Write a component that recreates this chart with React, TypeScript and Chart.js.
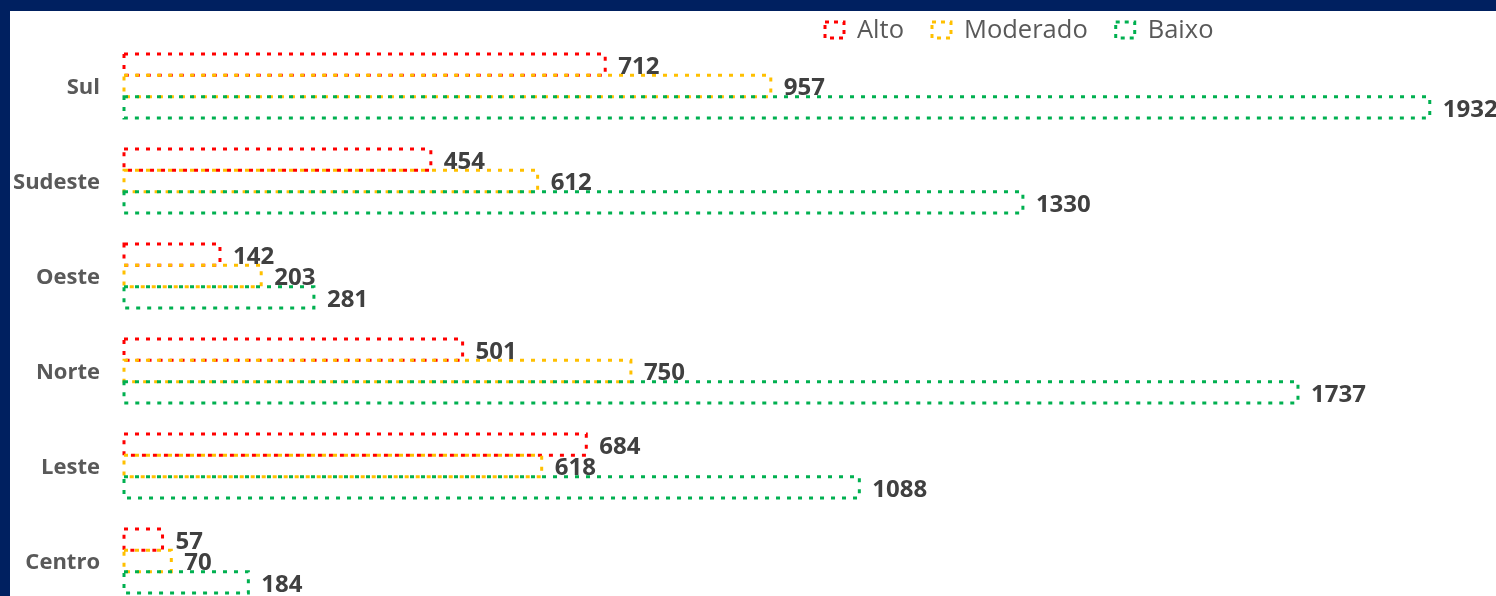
import React, { useEffect, useRef } from "react";
import { Chart, registerables } from "chart.js";

Chart.register(...registerables);

const categories = ["Sul", "Sudeste", "Oeste", "Norte", "Leste", "Centro"];
const alto = [712, 454, 142, 501, 684, 57];
const moderado = [957, 612, 203, 750, 618, 70];
const baixo = [1932, 1330, 281, 1737, 1088, 184];
const seriesNames = ["Alto", "Moderado", "Baixo"];
const seriesColors = ["#FF0000", "#FFC000", "#00B050"];
const xMax = 2030;

const dottedBars = {
  id: "dottedBars",
  afterDatasetsDraw(chart: any) {
    const ctx = chart.ctx;
    ctx.save();
    chart.data.datasets.forEach((ds: any, di: number) => {
      const meta = chart.getDatasetMeta(di);
      meta.data.forEach((el: any) => {
        const { x, y, base, height } = el.getProps(["x", "y", "base", "height"], true);
        ctx.strokeStyle = ds.borderColor;
        ctx.lineWidth = 3;
        ctx.lineCap = "butt";
        ctx.setLineDash([4, 7]);
        ctx.strokeRect(base, y - height / 2, x - base, height);
      });
    });
    ctx.setLineDash([]);
    ctx.fillStyle = "#404040";
    ctx.font = "bold 24px 'Open Sans'";
    ctx.textAlign = "left";
    ctx.textBaseline = "middle";
    chart.data.datasets.forEach((ds: any, di: number) => {
      const meta = chart.getDatasetMeta(di);
      meta.data.forEach((el: any, i: number) => {
        const { x, y } = el.getProps(["x", "y"], true);
        ctx.fillText(String(ds.data[i]), x + 13, y + 2.5);
      });
    });
    ctx.restore();
  },
};

const customLegend = {
  id: "customLegend",
  afterDraw(chart: any) {
    const ctx = chart.ctx;
    ctx.save();
    ctx.font = "25.5px 'Open Sans'";
    ctx.textBaseline = "middle";
    ctx.textAlign = "left";
    let x = 815;
    const cy = 19;
    chart.data.datasets.forEach((ds: any) => {
      ctx.strokeStyle = ds.borderColor;
      ctx.lineWidth = 3;
      ctx.setLineDash([4, 5]);
      ctx.strokeRect(x, cy - 8, 19, 16);
      ctx.setLineDash([]);
      ctx.fillStyle = "#595959";
      const tx = x + 32;
      ctx.fillText(ds.label, tx, cy + 1);
      x = tx + ctx.measureText(ds.label).width + 28;
    });
    ctx.restore();
  },
};

export default function App() {
  const ref = useRef<HTMLCanvasElement | null>(null);
  useEffect(() => {
    if (!ref.current) return;
    const seriesData = [alto, moderado, baixo];
    const chart = new Chart(ref.current, {
      type: "bar",
      data: {
        labels: categories,
        datasets: seriesNames.map((name, i) => ({
          label: name,
          data: seriesData[i],
          backgroundColor: "rgba(0,0,0,0)",
          borderColor: seriesColors[i],
          borderWidth: 0,
          barPercentage: 1,
          categoryPercentage: 0.674,
        })),
      },
      options: {
        indexAxis: "y",
        responsive: false,
        maintainAspectRatio: false,
        animation: false,
        layout: { padding: { top: 27.5, bottom: 4.5, left: 0, right: 0 } },
        plugins: {
          legend: { display: false },
          tooltip: { enabled: false },
        },
        scales: {
          x: { display: false, min: 0, max: xMax },
          y: {
            grid: { display: false, drawTicks: false },
            border: { display: false },
            ticks: {
              padding: 24,
              labelOffset: 2,
              color: "#595959",
              font: { family: "'Open Sans'", size: 22, weight: "bold" },
            },
            afterFit: (scale: any) => {
              scale.width = 114;
              scale.paddingTop = 0;
              scale.paddingBottom = 0;
            },
          },
        },
      },
      plugins: [dottedBars, customLegend],
    } as any);
    return () => chart.destroy();
  }, []);
  return (
    <div style={{ position: "fixed", inset: 0, background: "#002060", overflow: "hidden" }}>
      <div
        style={{
          position: "absolute",
          left: 10,
          top: 11,
          width: 1486,
          height: 602,
          background: "#ffffff",
          overflow: "hidden",
        }}
      >
        <canvas ref={ref} width={1486} height={602} style={{ display: "block" }} />
      </div>
    </div>
  );
}
